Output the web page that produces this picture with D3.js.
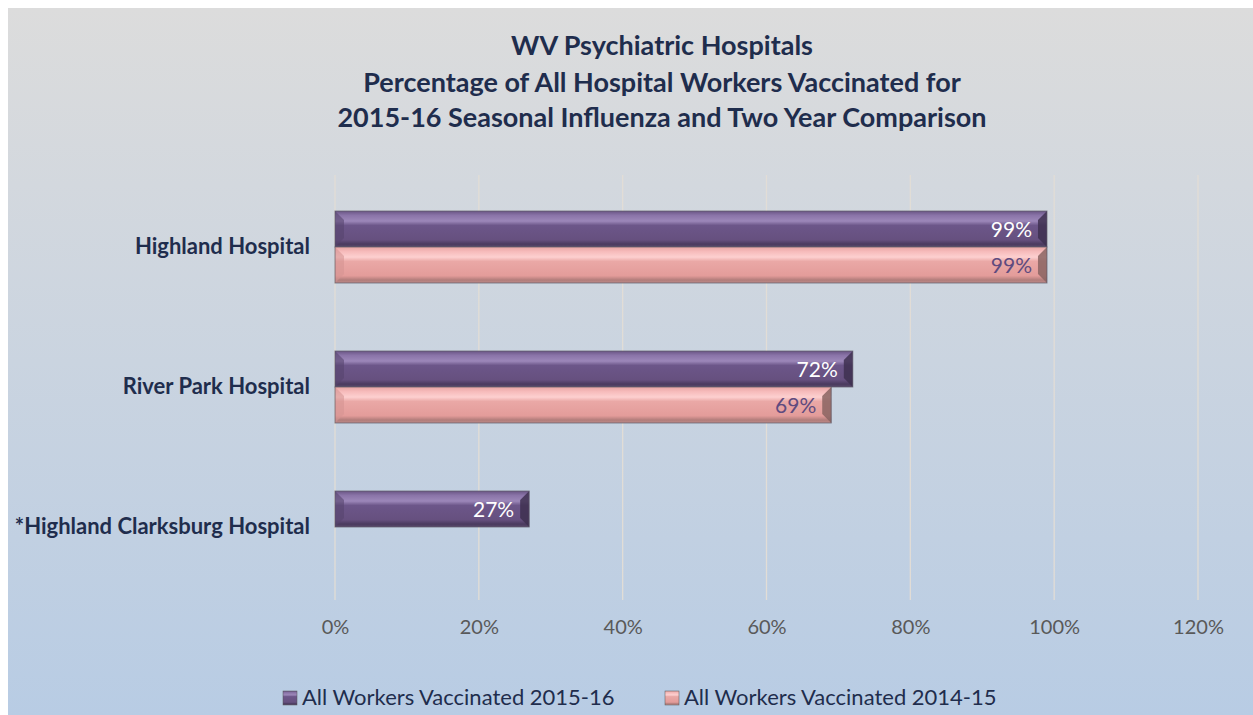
<!DOCTYPE html>
<html><head><meta charset="utf-8">
<script src="https://cdn.jsdelivr.net/npm/d3@7"></script>
<style>html,body{margin:0;padding:0;background:#fff;}svg{display:block;}</style>
</head><body>
<script>
const categories = ["Highland Hospital", "River Park Hospital", "*Highland Clarksburg Hospital"];
const series2015 = [0.99, 0.72, 0.27];
const series2014 = [0.99, 0.69, null];
const seriesNames = ["All Workers Vaccinated 2015-16", "All Workers Vaccinated 2014-15"];
const xTicks = [0, 0.2, 0.4, 0.6, 0.8, 1.0, 1.2];
const titleLines = ["WV Psychiatric Hospitals", "Percentage of All Hospital Workers Vaccinated for", "2015-16 Seasonal Influenza and Two Year Comparison"];

const W = 1253, H = 715;
const svg = d3.select("body").append("svg").attr("width", W).attr("height", H);
const defs = svg.append("defs");
const bg = defs.append("linearGradient").attr("id","bg").attr("x1",0).attr("y1",0).attr("x2",0).attr("y2",1);
bg.append("stop").attr("offset","0%").attr("stop-color","#dcdcdc");
bg.append("stop").attr("offset","100%").attr("stop-color","#b8cce4");
svg.append("rect").attr("x",8).attr("y",8).attr("width",W-8).attr("height",H-8).attr("fill","url(#bg)");

function grad(id, stops){
  const g = defs.append("linearGradient").attr("id",id).attr("x1",0).attr("y1",0).attr("x2",0).attr("y2",1);
  stops.forEach(s=>g.append("stop").attr("offset",s[0]).attr("stop-color",s[1]));
}
grad("gPurple", [["0%","#6a5585"],["12%","#8a74a8"],["28%","#9c87b9"],["40%","#6c5689"],["80%","#66507f"],["92%","#4a3a5e"],["100%","#5a4a6c"]]);
grad("gPink", [["0%","#e6a4a2"],["12%","#f6baba"],["28%","#fdd0d0"],["40%","#eaa8a6"],["80%","#e39c9a"],["92%","#b07c7a"],["100%","#c08c8a"]]);

const fam = "Lato, 'Open Sans', sans-serif";
const title = svg.append("g");
titleLines.forEach((t,i)=>{
  title.append("text").attr("x", 662).attr("y", [55, 92, 127][i])
    .attr("text-anchor","middle").attr("font-family",fam).attr("font-weight","bold")
    .attr("font-size", 27).attr("fill","#1f2d4d").text(t);
});

const x = d3.scaleLinear().domain([0, 1.2]).range([335, 1198]);
const y = d3.scaleBand().domain(categories).range([177, 597]).paddingInner(0.486).paddingOuter(0.243);
const sub = d3.scaleBand().domain([0,1]).range([0, y.bandwidth()]);

// gridlines
svg.append("g").selectAll("line").data(xTicks).join("line")
  .attr("x1", d=>x(d)).attr("x2", d=>x(d)).attr("y1", 175).attr("y2", 600)
  .attr("stroke","#e2ddd6").attr("stroke-width",1.3);

// axis labels
const xAxis = d3.axisBottom(x).tickValues(xTicks).tickFormat(d3.format(".0%")).tickSize(0).tickPadding(0);
const ax = svg.append("g").attr("transform","translate(0,620)").call(xAxis);
ax.select(".domain").remove();
ax.selectAll("text").attr("font-family",fam).attr("font-size",20).attr("fill","#595959");

// category labels
const yAxis = d3.axisLeft(y).tickSize(0).tickPadding(0);
const ay = svg.append("g").attr("transform","translate(310,0)").call(yAxis);
ay.select(".domain").remove();
ay.selectAll("text").attr("font-family",fam).attr("font-weight","bold").attr("font-size",22).attr("fill","#1f2d4d");

const all = [series2015, series2014];
const fills = ["url(#gPurple)","url(#gPink)"];
const bevel = ["#3e3050","#8a6462"];
const lblColors = ["#ffffff","#5f4b7f"];
all.forEach((ser, si)=>{
  const data = categories.map((c,i)=>({c, v: ser[i]})).filter(d=>d.v!=null);
  const g = svg.append("g");
  data.forEach(d=>{
    const x0 = x(0), x1 = x(d.v), y0 = y(d.c)+sub(si), h = sub.bandwidth();
    const b = 9;
    g.append("rect").attr("x",x0).attr("y",y0).attr("width",x1-x0).attr("height",h).attr("fill",fills[si]);
    g.append("polygon").attr("points",`${x1-b},${y0+b} ${x1},${y0} ${x1},${y0+h} ${x1-b},${y0+h-b}`).attr("fill",bevel[si]).attr("opacity",0.85);
    g.append("polygon").attr("points",`${x0},${y0} ${x0+b},${y0+b} ${x0+b},${y0+h-b} ${x0},${y0+h}`).attr("fill",si===0?"#57456e":"#d69492").attr("opacity",0.6);
    g.append("rect").attr("x",x0).attr("y",y0).attr("width",x1-x0).attr("height",h).attr("fill","none").attr("stroke","#5b5866").attr("stroke-width",1).attr("opacity",0.7);
    g.append("text").attr("x",x1-15).attr("y",y0+h/2).attr("dy","0.36em").attr("text-anchor","end")
      .attr("font-family",fam).attr("font-size",21).attr("fill",lblColors[si]).text(d3.format(".0%")(d.v));
  });
});

// legend
const leg = svg.append("g");
const legX = [283, 665];
seriesNames.forEach((n,i)=>{
  leg.append("rect").attr("x",legX[i]).attr("y",691).attr("width",14).attr("height",14).attr("fill",fills[i]).attr("stroke","#555").attr("stroke-width",0.5);
  leg.append("text").attr("x",legX[i]+19).attr("y",705).attr("font-family",fam).attr("font-size",22).attr("fill","#1f2d4d").text(n);
});
</script>
</body></html>
